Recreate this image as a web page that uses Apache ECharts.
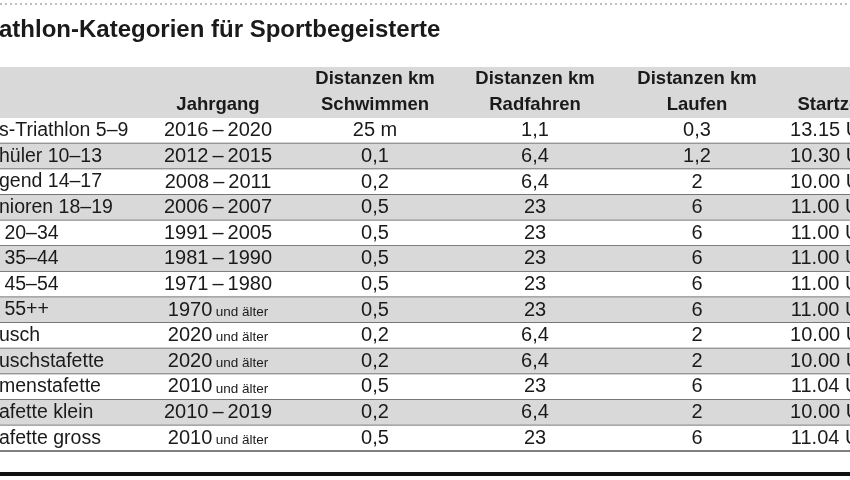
<!DOCTYPE html>
<html><head><meta charset="utf-8">
<script src="https://cdn.jsdelivr.net/npm/echarts@6/dist/echarts.min.js"></script>
<style>html,body{margin:0;padding:0;background:#fff}#c{width:850px;height:480px}</style>
</head><body><div id="c"></div>
<script>
const title = 'athlon-Kategorien für Sportbegeisterte';
const headers1 = ['', '', 'Distanzen km', 'Distanzen km', 'Distanzen km', ''];
const headers2 = ['', 'Jahrgang', 'Schwimmen', 'Radfahren', 'Laufen', 'Startzeit'];
const categories = ['s-Triathlon 5–9','hüler 10–13','gend 14–17','nioren 18–19',' 20–34',' 35–44',' 45–54',' 55++','usch','uschstafette','menstafette','afette klein','afette gross'];
const jahrgang = ['2016–2020','2012–2015','2008–2011','2006–2007','1991–2005','1981–1990','1971–1980','1970+','2020+','2020+','2010+','2010–2019','2010+'];
const schwimmen = ['25 m','0,1','0,2','0,5','0,5','0,5','0,5','0,5','0,2','0,2','0,5','0,2','0,5'];
const radfahren = ['1,1','6,4','6,4','23','23','23','23','23','6,4','6,4','23','6,4','23'];
const laufen = ['0,3','1,2','2','6','6','6','6','6','2','2','6','2','6'];
const startzeit = ['13.15 Uhr','10.30 Uhr','10.00 Uhr','11.00 Uhr','11.00 Uhr','11.00 Uhr','11.00 Uhr','11.00 Uhr','10.00 Uhr','10.00 Uhr','11.04 Uhr','10.00 Uhr','11.04 Uhr'];

const colX = [-1, 218, 375, 535, 697, 834];
const FONT = '"Liberation Sans", Arial, sans-serif';
const chart = echarts.init(document.getElementById('c'));

function yearText(s){
  if (s.endsWith('+')) return '{y|' + s.slice(0,-1) + '} {s|und älter}';
  return '{y|' + s.replace('–','\u2009–\u2009') + '}';
}

chart.setOption({
  animation:false,
  grid:{left:0,right:0,top:118,bottom:29},
  xAxis:{type:'value',min:0,max:850,show:false},
  yAxis:{type:'category',data:categories,inverse:true,show:false},
  graphic:[
    {type:'line',shape:{x1:0,y1:4,x2:850,y2:4},style:{stroke:'#aaa',lineWidth:1.5,lineDash:[2,3]}},
    {type:'text',x:-1,y:30,style:{text:title,font:'bold 24px '+FONT,fill:'#1a1a1a',textVerticalAlign:'middle'}},
    {type:'rect',shape:{x:0,y:67,width:850,height:51},style:{fill:'#d9d9d9'}},
    ...headers1.map((h,i)=>({type:'text',x:colX[i],y:79,style:{text:h,font:'bold 18.5px '+FONT,fill:'#1a1a1a',textAlign:'center',textVerticalAlign:'middle'}})),
    ...headers2.map((h,i)=>({type:'text',x:colX[i],y:105,style:{text:h,font:'bold 18.5px '+FONT,fill:'#1a1a1a',textAlign:'center',textVerticalAlign:'middle'}})),
    {type:'rect',shape:{x:0,y:472,width:850,height:4},style:{fill:'#111'}}
  ],
  series:[{
    type:'custom',
    data:categories.map((c,i)=>[i]),
    renderItem:function(params, api){
      const i = api.value(0);
      const p = api.coord([0,i]);
      const h = api.size([0,1])[1];
      const top = p[1]-h/2, cy = p[1];
      const children = [];
      children.push({type:'rect',shape:{x:0,y:top,width:850,height:h},style:{fill: i%2===1?'#d9d9d9':'#fff'}});
      children.push({type:'line',shape:{x1:0,y1:top+h,x2:850,y2:top+h},style:{stroke:'#555',lineWidth:1.5}});
      const base = {fill:'#1a1a1a',textVerticalAlign:'middle'};
      children.push({type:'text',x:colX[0],y:cy,style:Object.assign({text:categories[i],font:'19.5px '+FONT,textAlign:'left'},base)});
      children.push({type:'text',x:colX[1],y:cy,style:Object.assign({text:yearText(jahrgang[i]),textAlign:'center',rich:{y:{font:'20px '+FONT,fill:'#1a1a1a'},s:{font:'13.5px '+FONT,fill:'#1a1a1a',padding:[4,0,0,0]}}},base)});
      [schwimmen,radfahren,laufen,startzeit].forEach((arr,k)=>{
        children.push({type:'text',x:colX[k+2],y:cy,style:Object.assign({text:arr[i],font:'20px '+FONT,textAlign:'center'},base)});
      });
      return {type:'group',children};
    }
  }]
});
</script></body></html>
